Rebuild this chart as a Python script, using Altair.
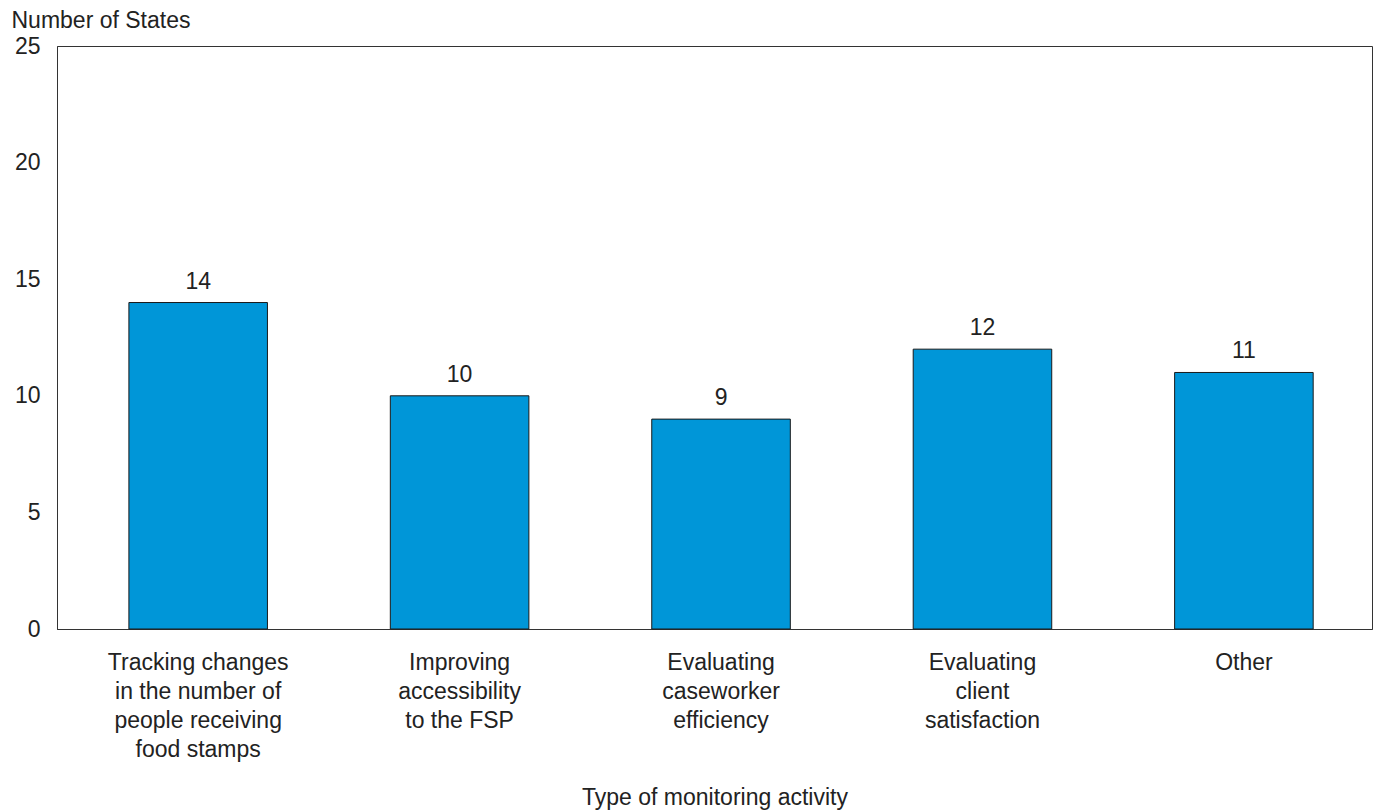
import altair as alt
import pandas as pd

# Monitoring activities reported by states, with "|" marking line breaks in the axis labels
activities = [
    "Tracking changes|in the number of|people receiving|food stamps",
    "Improving|accessibility|to the FSP",
    "Evaluating|caseworker|efficiency",
    "Evaluating|client|satisfaction",
    "Other",
]
num_states = [14, 10, 9, 12, 11]

df = pd.DataFrame({"activity": activities, "states": num_states})

FONT = "Liberation Sans"
TEXT = "#222222"
FS = 23

x_enc = alt.X(
    "activity:N",
    sort=activities,
    scale=alt.Scale(paddingInner=0.47, paddingOuter=0.25, align=0.55),
    axis=alt.Axis(
        title="Type of monitoring activity",
        labelExpr="split(datum.label, '|')",
        labelAngle=0,
        labelAlign="center",
        labelBaseline="top",
        labelPadding=22,
        labelLineHeight=29,
        labelLimit=400,
        labelFontSize=FS,
        labelColor=TEXT,
        labelFont=FONT,
        ticks=False,
        domain=True,
        domainColor="#333333",
        titleFontSize=FS,
        titleFontWeight="normal",
        titleFont=FONT,
        titleColor=TEXT,
        titleBaseline="middle",
        titleY=168,
    ),
)

y_enc = alt.Y(
    "states:Q",
    scale=alt.Scale(domain=[0, 25], nice=False),
    axis=alt.Axis(
        title="Number of States",
        values=[0, 5, 10, 15, 20, 25],
        grid=False,
        ticks=False,
        domain=True,
        domainColor="#333333",
        labelFontSize=FS,
        labelFont=FONT,
        labelColor=TEXT,
        labelPadding=17,
        titleAngle=0,
        titleAlign="left",
        titleBaseline="middle",
        titleX=-46,
        titleY=-26,
        titleFontSize=FS,
        titleFontWeight="normal",
        titleFont=FONT,
        titleColor=TEXT,
    ),
)

bars = alt.Chart(df).mark_bar(
    color="#0096D8", stroke="#1a1a1a", strokeWidth=1
).encode(x=x_enc, y=y_enc)

labels = alt.Chart(df).mark_text(
    baseline="bottom", dy=-9, fontSize=FS, font=FONT, color=TEXT
).encode(
    x=alt.X("activity:N", sort=activities),
    y=alt.Y("states:Q"),
    text=alt.Text("states:Q"),
)

chart = (
    alt.layer(bars, labels)
    .properties(
        width=1315,
        height=583,
        autosize=alt.AutoSizeParams(type="none"),
        padding={"left": 57, "top": 46, "right": 4, "bottom": 182},
        background="white",
    )
    .configure_view(stroke="#333333", strokeWidth=1)
)

chart.save("out.html", embed_options={"renderer": "svg", "actions": False})
